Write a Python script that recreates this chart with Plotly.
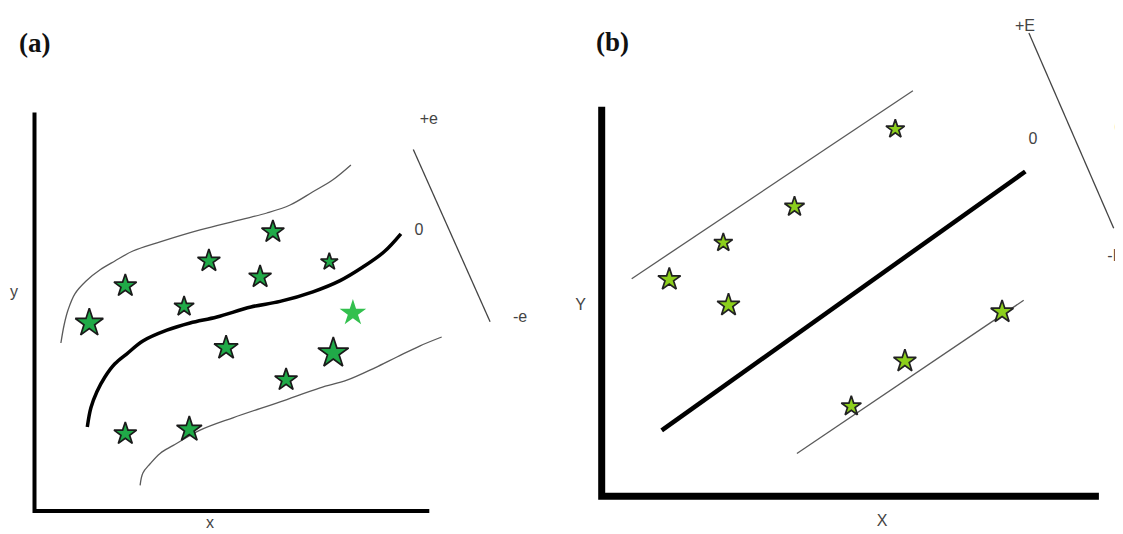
import plotly.graph_objects as go

# ---------------- Panel (a): non-linear SVR schematic ----------------
a_axis_x = [0, 0, 98.7]
a_axis_y = [99.6, 0, 0]

a_upper_x = [6.6, 7.4, 8.4, 10.1, 12.9, 16.4, 20.1, 24.6, 31.4, 41.4, 51.4, 58.1, 63.9, 69.6, 74.6, 79.1]
a_upper_y = [42.0, 46.5, 50.3, 54.3, 57.5, 60.3, 62.5, 65.0, 67.3, 70.3, 72.8, 74.5, 76.5, 79.8, 82.8, 86.5]

a_center_x = [13.2, 14.1, 15.6, 17.6, 20.1, 23.1, 27.1, 33.1, 38.9, 45.6, 54.1, 61.4, 69.6, 76.4, 82.1, 87.4, 91.6]
a_center_y = [21.0, 25.8, 29.8, 33.5, 36.8, 39.3, 42.5, 45.2, 47.0, 48.5, 51.0, 52.4, 54.8, 57.6, 61.0, 64.8, 69.3]

a_lower_x = [26.4, 27.1, 28.9, 31.4, 34.7, 41.4, 49.6, 61.4, 71.4, 78.1, 85.1, 90.6, 96.4, 101.8]
a_lower_y = [6.4, 9.5, 11.8, 14.4, 16.4, 20.2, 23.3, 27.3, 30.8, 32.7, 35.8, 38.5, 41.3, 43.5]

a_bracket_x = [94.7, 113.9]
a_bracket_y = [90.4, 47.3]

a_star_x = [13.7, 22.7, 37.4, 43.6, 59.6, 56.4, 73.7, 47.9, 74.7, 62.9, 22.7, 38.7]
a_star_y = [47.0, 56.3, 51.1, 62.5, 69.8, 58.5, 62.3, 40.8, 39.5, 32.8, 19.3, 20.4]
a_star_size = [21, 17, 15, 17, 17, 17, 13, 18, 23, 17, 17, 19]

a_light_x = [79.6]
a_light_y = [49.5]
a_light_size = [20]

a_label_text = ["y", "x", "+e", "0", "-e"]
a_label_x = [-5.1, 43.9, 98.6, 96.1, 121.4]
a_label_y = [54.5, -3.2, 97.8, 70.0, 48.3]

# ---------------- Panel (b): linear SVR schematic ----------------
b_axis_x = [0, 0, 124.3]
b_axis_y = [97.4, 0, 0]

b_center_x = [15.0, 105.9]
b_center_y = [16.5, 81.2]

b_upper_x = [7.5, 77.8]
b_upper_y = [54.4, 101.4]

b_lower_x = [48.8, 105.5]
b_lower_y = [10.7, 49.0]

b_bracket_x = [106.8, 128.0]
b_bracket_y = [115.8, 67.0]

b_star_x = [16.9, 31.7, 30.4, 48.2, 73.4, 62.4, 75.8, 100.1]
b_star_y = [54.2, 47.8, 63.4, 72.4, 91.8, 22.5, 33.8, 46.1]
b_star_size = [17, 17, 14, 15, 14, 15, 17, 17]

b_label_text = ["Y", "X", "0", "+E"]
b_label_x = [-5.3, 70.1, 107.8, 105.8]
b_label_y = [47.5, -6.4, 89.1, 117.4]

b_edge_text = ["-E", "0"]
b_edge_x = [126.4, 128.2]
b_edge_y = [59.8, 91.8]

panel_titles = ["(a)", "(b)"]

fig = go.Figure()

def line(x, y, w, c, xa, ya, shape="linear"):
    fig.add_trace(go.Scatter(x=x, y=y, mode="lines", xaxis=xa, yaxis=ya,
                             line=dict(color=c, width=w, shape=shape),
                             hoverinfo="skip", showlegend=False))

LABEL_FONT = dict(family="Liberation Sans, Arial, sans-serif", size=16, color="#444444")

# Panel a
line(a_axis_x, a_axis_y, 4, "#000000", "x", "y")
line(a_upper_x, a_upper_y, 1.3, "#5a5a5a", "x", "y", "spline")
line(a_lower_x, a_lower_y, 1.3, "#5a5a5a", "x", "y", "spline")
line(a_center_x, a_center_y, 3.5, "#000000", "x", "y", "spline")
line(a_bracket_x, a_bracket_y, 1.3, "#444444", "x", "y")
fig.add_trace(go.Scatter(x=a_star_x, y=a_star_y, mode="markers", xaxis="x", yaxis="y",
                         marker=dict(symbol="star", size=a_star_size, color="#20aa48", opacity=1,
                                     line=dict(color="#1a1a1a", width=1.7)),
                         hoverinfo="skip", showlegend=False))
fig.add_trace(go.Scatter(x=a_light_x, y=a_light_y, mode="markers", xaxis="x", yaxis="y",
                         marker=dict(symbol="star", size=a_light_size, color="#33c04e", opacity=1,
                                     line=dict(width=0)),
                         hoverinfo="skip", showlegend=False))
fig.add_trace(go.Scatter(x=a_label_x, y=a_label_y, text=a_label_text, mode="text",
                         xaxis="x", yaxis="y", cliponaxis=False, textfont=LABEL_FONT,
                         hoverinfo="skip", showlegend=False))

# Panel b
line(b_axis_x, b_axis_y, 7, "#000000", "x2", "y2")
line(b_upper_x, b_upper_y, 1.3, "#5a5a5a", "x2", "y2")
line(b_lower_x, b_lower_y, 1.3, "#5a5a5a", "x2", "y2")
line(b_center_x, b_center_y, 4.5, "#000000", "x2", "y2")
line(b_bracket_x, b_bracket_y, 1.3, "#444444", "x2", "y2")
fig.add_trace(go.Scatter(x=b_star_x, y=b_star_y, mode="markers", xaxis="x2", yaxis="y2",
                         marker=dict(symbol="star", size=b_star_size, color="#8ccf1c", opacity=1,
                                     line=dict(color="#222222", width=1.7)),
                         hoverinfo="skip", showlegend=False))
fig.add_trace(go.Scatter(x=b_label_x, y=b_label_y, text=b_label_text, mode="text",
                         xaxis="x2", yaxis="y2", cliponaxis=False, textfont=LABEL_FONT,
                         hoverinfo="skip", showlegend=False))
fig.add_trace(go.Scatter(x=b_edge_x, y=b_edge_y, text=b_edge_text, mode="text",
                         textposition="middle right",
                         xaxis="x2", yaxis="y2", cliponaxis=False, textfont=LABEL_FONT,
                         hoverinfo="skip", showlegend=False))

# The page body adds an 8 px margin, so the figure is 8 px smaller than the window
W, H = 1115, 526
OFF = 8
SPLIT = 560  # window pixel where panel b starts
ax_common = dict(visible=False, showgrid=False, zeroline=False, fixedrange=True)
fig.update_layout(
    width=W, height=H,
    margin=dict(l=0, r=0, t=0, b=0),
    paper_bgcolor="white", plot_bgcolor="white",
    showlegend=False,
    xaxis=dict(domain=[0, (SPLIT - OFF) / W], range=[-6.625, 131.375], **ax_common),
    yaxis=dict(domain=[0, 1], range=[-5.75, 125.75], **ax_common),
    xaxis2=dict(domain=[(SPLIT - OFF) / W, 1], range=[-10.425, 130.325], **ax_common),
    yaxis2=dict(domain=[0, 1], range=[-9.425, 122.075], **ax_common),
    annotations=[
        dict(text="<b>" + panel_titles[0] + "</b>", x=(34 - OFF) / W, y=1 - (43 - OFF) / H,
             xref="paper", yref="paper", showarrow=False, xanchor="center", yanchor="middle",
             font=dict(family="Liberation Serif, Times New Roman, serif", size=27, color="#111111")),
        dict(text="<b>" + panel_titles[1] + "</b>", x=(612 - OFF) / W, y=1 - (42 - OFF) / H,
             xref="paper", yref="paper", showarrow=False, xanchor="center", yanchor="middle",
             font=dict(family="Liberation Serif, Times New Roman, serif", size=27, color="#111111")),
    ],
)

fig.write_html("out.html")
